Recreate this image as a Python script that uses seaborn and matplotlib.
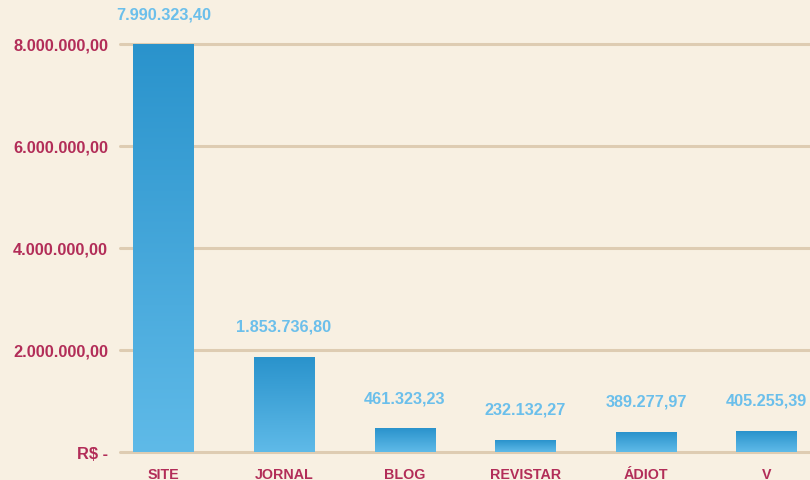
import numpy as np
import pandas as pd
import matplotlib
matplotlib.use("Agg")
import matplotlib.pyplot as plt
import seaborn as sns
from matplotlib.colors import LinearSegmentedColormap

categories = ["SITE", "JORNAL", "BLOG", "REVISTAR", "ÁDIOT", "V"]
values = [7990323.40, 1853736.80, 461323.23, 232132.27, 389277.97, 405255.39]
value_labels = ["7.990.323,40", "1.853.736,80", "461.323,23", "232.132,27", "389.277,97", "405.255,39"]
y_ticks = [0, 2000000, 4000000, 6000000, 8000000]
y_tick_labels = ["R$ -", "2.000.000,00", "4.000.000,00", "6.000.000,00", "8.000.000,00"]

BG = "#F8F0E2"
GRID = "#DECCB2"
RED = "#B22D58"
LBLUE = "#6BBFEB"

sns.set_theme(style="white")
plt.rcParams["font.family"] = ["Liberation Sans", "DejaVu Sans"]

df = pd.DataFrame({"cat": categories, "val": values})

fig = plt.figure(figsize=(8.10, 4.81), dpi=100, facecolor=BG)
ax = fig.add_axes([120/810, 1-453/481, 690/810, (453-45)/481])
ax.set_facecolor(BG)

sns.barplot(data=df, x="cat", y="val", ax=ax, color="#2A93CC", width=0.5, saturation=1)

ax.set_xlim(-0.36, 5.36)
ax.set_ylim(0, 8000000)
ax.set_yticks(y_ticks)
ax.set_yticklabels(y_tick_labels)
for s in ax.spines.values():
    s.set_visible(False)
ax.grid(False)
for y in y_ticks:
    ax.axhline(y, color=GRID, lw=2.2, zorder=0.5, clip_on=False)

ax.tick_params(axis="y", length=0, pad=8.6, labelcolor=RED, labelsize=11.8)
ax.tick_params(axis="x", length=0, pad=10.8, labelcolor=RED, labelsize=10.3)
for t in ax.get_yticklabels() + ax.get_xticklabels():
    t.set_fontweight("bold")
ax.set_xlabel("")
ax.set_ylabel("")

cmap = LinearSegmentedColormap.from_list("g", ["#5FBAE8", "#2A93CC"])
grad = np.linspace(0, 1, 256).reshape(-1, 1)
for p in ax.patches:
    x0, y0 = p.get_x(), p.get_y()
    w, h = p.get_width(), p.get_height()
    im = ax.imshow(grad, extent=[x0, x0 + w, y0, y0 + h], origin="lower",
                   cmap=cmap, aspect="auto", zorder=2)
    im.set_clip_path(p)
    p.set_facecolor("none")
    p.set_edgecolor("none")
ax.set_xlim(-0.36, 5.36)
ax.set_ylim(0, 8000000)

for i, (v, lab) in enumerate(zip(values, value_labels)):
    ax.annotate(lab, (i, v), xytext=(0, 22.3), textcoords="offset points",
                ha="center", va="center", color=LBLUE, fontsize=11.7,
                fontweight="bold", annotation_clip=False)

fig.savefig("out.png", dpi=100, facecolor=BG)
